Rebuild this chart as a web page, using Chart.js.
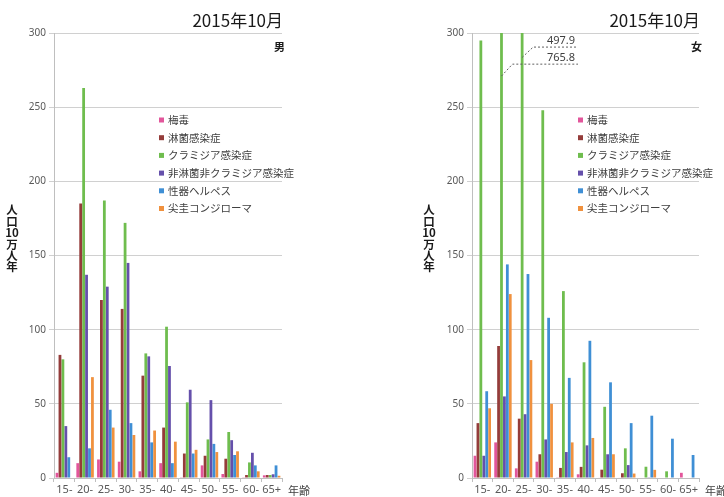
<!DOCTYPE html>
<html>
<head>
<meta charset="utf-8">
<script src="https://cdn.jsdelivr.net/npm/chart.js@4/dist/chart.umd.min.js"></script>
<style>
  body { margin: 0; background: #fff; }
  .box { position: absolute; top: 0; width: 362px; height: 497px; }
</style>
</head>
<body>
<div class="box" style="left:0"><canvas id="male"></canvas></div>
<div class="box" style="left:362px"><canvas id="female"></canvas></div>
<script>
var ages = ['15-', '20-', '25-', '30-', '35-', '40-', '45-', '50-', '55-', '60-', '65+'];
var diseases = ['梅毒', '淋菌感染症', 'クラミジア感染症', '非淋菌非クラミジア感染症', '性器ヘルペス', '尖圭コンジローマ'];
var colors = ['#e2569b', '#943c3a', '#6fbd4e', '#6550ab', '#3f8fd5', '#f0913e'];
var yTicks = [0, 50, 100, 150, 200, 250, 300];

// 男
var maleSyphilis  = [3.5, 10, 12.5, 11, 4.5, 10, 0.5, 8.5, 2.7, 0.5, 1.8];
var maleGonorrhea = [83, 185, 120, 114, 69, 34, 16.5, 15, 13, 2, 2];
var maleChlamydia = [80, 263, 187, 172, 84, 102, 51, 26, 31, 10.5, 2];
var maleNGNC      = [35, 137, 129, 145, 82, 75.5, 59.5, 52.5, 25.5, 17, 2.5];
var maleHerpes    = [14, 20, 46, 37, 24, 10, 16.5, 23, 15.5, 8.5, 8.5];
var maleWarts     = [0, 68, 34, 29, 32, 24.5, 19, 17.5, 18, 4.5, 1.5];

// 女
var femaleSyphilis  = [15, 24, 6.5, 11, 0.5, 2.5, 0.3, 0.3, 0, 0, 3.5];
var femaleGonorrhea = [37, 89, 40, 16, 6.8, 7.5, 5.6, 3.2, 0, 0, 0];
var femaleChlamydia = [295, 765.8, 497.9, 248, 126, 78, 48, 20, 7.6, 4.5, 0];
var femaleNGNC      = [15, 55, 43, 26, 17.5, 22, 16, 8.7, 0.5, 0, 0];
var femaleHerpes    = [58.5, 144, 137.5, 108, 67.5, 92.5, 64.5, 37, 42, 26.5, 15.5];
var femaleWarts     = [47, 124, 79.5, 50, 24, 27, 16, 3, 5.5, 0, 0];

var jp = '"Noto Sans CJK JP", "Noto Sans", sans-serif';

// extra text: title, sex, stacked y label, legend, x label, clipped-bar notes
var extras = {
  id: 'extras',
  afterDraw: function(chart, args, o) {
    var c = chart.ctx, a = chart.chartArea;
    c.save();
    c.fillStyle = '#1a1a1a';
    c.font = '17px ' + jp;
    c.textAlign = 'right';
    c.textBaseline = 'alphabetic';
    c.fillText('2015年10月', a.right + 1, 27);

    c.font = 'bold 11px ' + jp;
    c.fillText(o.sex, a.right + 3, 51);

    c.textAlign = 'center';
    c.textBaseline = 'middle';
    c.font = 'bold 11.5px ' + jp;
    ['人', '口', '10', '万', '人', '年'].forEach(function(ch, i) {
      c.fillText(ch, o.yLabelX, 210 + i * 11.4);
    });

    c.textAlign = 'left';
    c.fillStyle = '#404040';
    c.font = '11px ' + jp;
    c.fillText('年齢', a.right + 6, 491);

    // legend
    c.font = '10.5px ' + jp;
    chart.data.datasets.forEach(function(ds, i) {
      var y = 120 + i * 17.7;
      c.fillStyle = ds.backgroundColor;
      c.fillRect(o.legendX, y - 2.5, 5, 5);
      c.fillStyle = '#404040';
      c.fillText(ds.label, o.legendX + 9, y);
    });

    // notes for bars beyond the axis
    var ys = chart.scales.y;
    (o.notes || []).forEach(function(n) {
      var ds = chart.data.datasets[n.ds];
      var bar = chart.getDatasetMeta(n.ds).data[n.index];
      var y0 = ys.getPixelForValue(n.from), y1 = ys.getPixelForValue(n.to);
      var x1 = bar.x + 11, x2 = a.left + 106;
      c.strokeStyle = '#606060';
      c.lineWidth = 1;
      c.setLineDash([2, 2]);
      c.beginPath();
      c.moveTo(bar.x, y0);
      c.lineTo(x1, y1);
      c.lineTo(x2, y1);
      c.stroke();
      c.setLineDash([]);
      c.fillStyle = '#404040';
      c.font = '11px "Noto Sans", sans-serif';
      c.textAlign = 'right';
      c.textBaseline = 'alphabetic';
      c.fillText(ds.data[n.index].toFixed(1), x2 - 3, y1 - 3);
    });
    c.restore();
  }
};

function makeChart(id, series, axisWidth, rightPad, opts) {
  var datasets = series.map(function(d, i) {
    return {
      label: diseases[i],
      data: d,
      backgroundColor: colors[i],
      barPercentage: 0.95,
      categoryPercentage: 0.85
    };
  });
  return new Chart(document.getElementById(id), {
    type: 'bar',
    data: { labels: ages, datasets: datasets },
    options: {
      responsive: true,
      maintainAspectRatio: false,
      animation: false,
      layout: { padding: { top: 33, right: rightPad, left: 0, bottom: 0 } },
      plugins: {
        legend: { display: false },
        tooltip: { enabled: false },
        extras: opts
      },
      scales: {
        x: {
          grid: { display: true, drawOnChartArea: false, tickLength: 4, color: '#bfbfbf' },
          border: { color: '#bfbfbf' },
          ticks: { color: '#595959', font: { size: 11, family: '"Noto Sans", sans-serif' }, padding: 1, maxRotation: 0, autoSkip: false },
          afterFit: function(s) { s.height = 19; }
        },
        y: {
          min: 0,
          max: 300,
          afterBuildTicks: function(s) { s.ticks = yTicks.map(function(v) { return { value: v }; }); },
          grid: { color: '#d0d0d0', tickLength: 5 },
          border: { color: '#bfbfbf' },
          ticks: { color: '#595959', font: { size: 10, family: '"Noto Sans", sans-serif' }, padding: 3 },
          afterFit: function(s) { s.width = axisWidth; }
        }
      }
    },
    plugins: [extras]
  });
}

makeChart('male',
  [maleSyphilis, maleGonorrhea, maleChlamydia, maleNGNC, maleHerpes, maleWarts],
  54, 80, { sex: '男', yLabelX: 12, legendX: 159 });

makeChart('female',
  [femaleSyphilis, femaleGonorrhea, femaleChlamydia, femaleNGNC, femaleHerpes, femaleWarts],
  110, 25, {
    sex: '女', yLabelX: 67, legendX: 216,
    notes: [
      { ds: 2, index: 1, from: 271, to: 279 },
      { ds: 2, index: 2, from: 283.5, to: 290.5 }
    ]
  });
</script>
</body>
</html>
